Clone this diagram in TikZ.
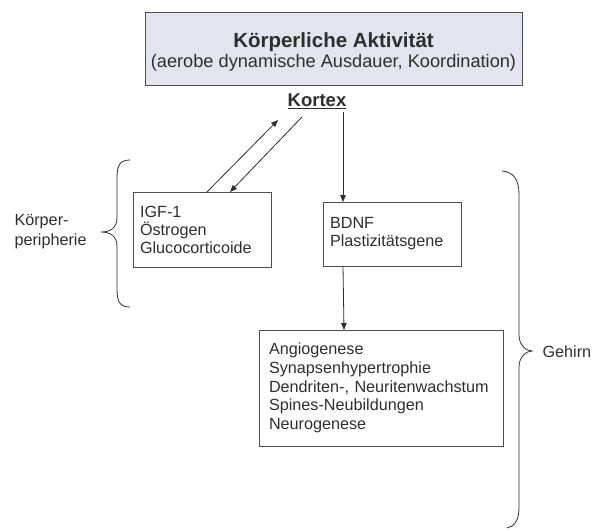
\documentclass[tikz,border=0pt]{standalone}
\usepackage{fontspec}
\setmainfont{Liberation Sans}
\usetikzlibrary{arrows.meta,calc}
\definecolor{ink}{HTML}{2E2E2E}
\definecolor{boxfill}{HTML}{E4E4EE}
\begin{document}
\begin{tikzpicture}[x=1pt,y=-1pt,
  every node/.style={text=ink},
  box/.style={draw=ink!85, line width=0.9pt, inner sep=0pt, outer sep=0pt},
  txt/.style={font=\fontsize{16.2}{18}\selectfont, align=left},
  arr/.style={draw=ink, line width=0.8pt, -{Triangle[length=7pt,width=5.5pt]}},
  brace/.style={draw=ink, line width=0.8pt}
]
\useasboundingbox (0,0) rectangle (596,530);
% top box
\node[box, fill=boxfill, minimum width=377, minimum height=73] (top) at (333.5,48.5) {};
\node[anchor=base, inner sep=0pt, font=\fontsize{20.5}{22}\selectfont\bfseries] (title) at (333.5,47) {Körperliche Aktivität};
\node[anchor=base, inner sep=0pt, font=\fontsize{18.2}{20}\selectfont] (subtitle) at (333.5,67) {(aerobe dynamische Ausdauer, Koordination)};
\node[font=\fontsize{18.5}{20}\selectfont\bfseries] (kortex) at (317,101) {\underline{Kortex}};
% boxes
\node[box, minimum width=138, minimum height=75, text width=124, txt] (igf) at (202,229.5)
  {IGF-1\\Östrogen\\Glucocorticoide};
\node[box, minimum width=138, minimum height=64, text width=124, txt] (bdnf) at (392,234)
  {BDNF\\Plastizitätsgene};
\node[box, minimum width=244, minimum height=116, text width=224, txt, font=\fontsize{16.2}{18.8}\selectfont] (ang) at (381,388)
  {Angiogenese\\Synapsenhypertrophie\\Dendriten-, Neuritenwachstum\\Spines-Neubildungen\\Neurogenese};
% labels
\node[txt, anchor=west, font=\fontsize{16.2}{20}\selectfont] (kp) at (11,232) {Körper-\\peripherie};
\node[txt, anchor=west] (geh) at (539,352) {Gehirn};
% connectors
\draw[arr] ([xshift=74]igf.north west) -- ($(kortex.south)+(-39,8)$);
\draw[arr] ($(kortex.south)+(-15,5)$) -- ([xshift=97]igf.north west);
\draw[arr] ([xshift=26]kortex.south) -- ([xshift=20]bdnf.north west);
\draw[arr] ([xshift=20]bdnf.south west) -- ([xshift=85]ang.north west);
% left brace
\coordinate (lt) at (130,160);
\coordinate (lb) at (130,307);
\coordinate (ltip) at (101,232);
\draw[brace] (lt) .. controls (120,160) and (117,165) .. (117,178)
  -- (117,218) .. controls (117,228) and (110,232) .. (ltip)
  .. controls (110,232) and (117,236) .. (117,246)
  -- (117,289) .. controls (117,302) and (120,307) .. (lb);
% right brace
\coordinate (rt) at (502,171);
\coordinate (rb) at (507,528);
\coordinate (rtip) at (532,351);
\draw[brace] (rt) .. controls (514,172) and (519,180) .. (519,195)
  -- (519,335) .. controls (519,345) and (526,351) .. (rtip)
  .. controls (526,351) and (519,357) .. (519,367)
  -- (519,508) .. controls (519,520) and (514,527) .. (rb);
\end{tikzpicture}
\end{document}
